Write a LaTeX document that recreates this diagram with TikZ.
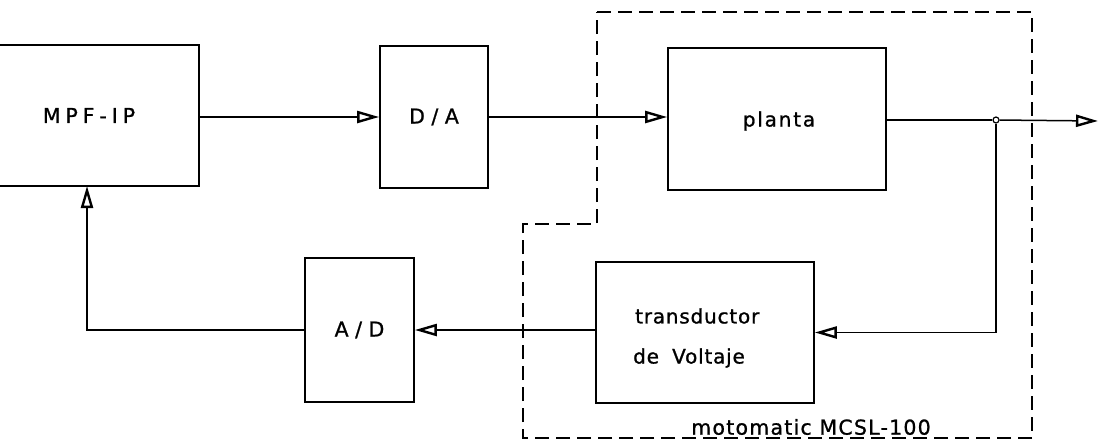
\documentclass[tikz,border=0pt]{standalone}
\usepackage{fontspec}
\setmainfont{DejaVu Sans}
\usetikzlibrary{arrows.meta}
\begin{document}
\begin{tikzpicture}[x=1pt,y=-1pt,
  blk/.style={draw, line width=1.7pt, inner sep=0pt},
  capl/.style={font=\fontsize{20.5}{24}\selectfont\addfontfeature{FakeBold=1}},
  lowl/.style={font=\fontsize{20}{24}\selectfont\addfontfeature{FakeBold=1,LetterSpace=4}},
  small/.style={font=\fontsize{20.5}{24}\selectfont\addfontfeature{FakeBold=1,LetterSpace=6}, inner sep=0pt},
  conn/.style={line width=1.5pt},
  arr/.style={conn, -{Triangle[open, length=22pt, width=12pt, line width=2.4pt]}},
  bound/.style={line width=1.5pt, dash pattern=on 14pt off 7pt},
]
\useasboundingbox (0,0) rectangle (1100,442);
\clip (0,0) rectangle (1100,442);

% dashed boundary of the motomatic unit
\draw[bound] (597,12) -- (1032,12) -- (1032,438) -- (523,438) -- (523,224) -- (597,224) -- cycle;

% blocks
\node[blk, capl, minimum width=220pt, minimum height=141pt] (mpf) at (89,115.5) {\addfontfeature{LetterSpace=24}MPF-IP};
\node[blk, capl, minimum width=108pt, minimum height=142pt] (da) at (434,117) {D / A};
\node[blk, minimum width=218pt, minimum height=142pt] (pl) at (777,119) {};
\node[lowl, inner sep=0pt] (plt) at (779,121) {\addfontfeature{LetterSpace=9}planta};
\node[blk, capl, minimum width=109pt, minimum height=144pt] (ad) at (359.5,330) {A / D};
\node[blk, minimum width=218pt, minimum height=141pt] (tr) at (705,332.5) {};
\node[lowl, anchor=west, inner sep=0pt] (tr1) at (635,316) {transductor};
\node[lowl, anchor=west, inner sep=0pt] (tr2) at (633,358) {de\hspace{6pt} Voltaje};
\node[small] (mot) at (811,427) {motomatic MCSL-100};

% junction and points
\node[circle, draw, line width=1.2pt, fill=white, inner sep=0pt, minimum size=6pt] (j) at (996,120) {};
\coordinate (out) at (1098,121);
\coordinate (fb) at (87,186);

% connectors
\draw[arr] (mpf.east |- da.west) -- (da.west);
\draw[arr] (da.east) -- (da.east -| pl.west);
\draw[conn] (pl.east |- j) -- (j);
\draw[arr] (j) -- (out);
\draw[arr] (j) |- (tr.east);
\draw[arr] (tr.west |- ad.east) -- (ad.east);
\draw[arr] (ad.west) -| (fb);
\end{tikzpicture}
\end{document}
